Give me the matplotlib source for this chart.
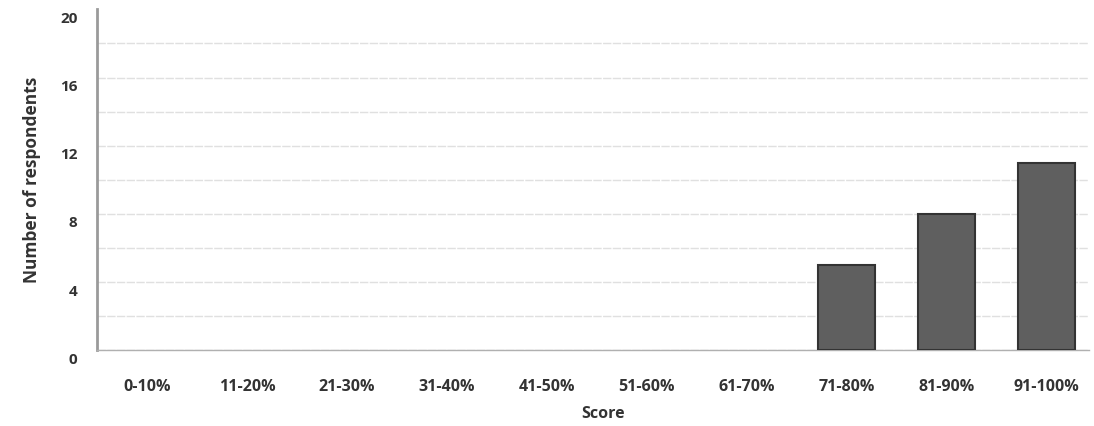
import numpy as np
import matplotlib.pyplot as plt
import matplotlib.transforms as mtransforms

categories = ["0-10%", "11-20%", "21-30%", "31-40%", "41-50%",
              "51-60%", "61-70%", "71-80%", "81-90%", "91-100%"]
respondents = [0, 0, 0, 0, 0, 0, 0, 5, 8, 11]
y_ticks = [0, 4, 8, 12, 16, 20]

plt.rcParams["font.family"] = ["Open Sans", "DejaVu Sans"]

fig = plt.figure(figsize=(10.94, 4.26), dpi=100)
ax = fig.add_axes([0.0887, 0.178, 0.907, 0.80])

x = np.arange(len(categories))
edges = ["#333333" if v > 0 else "none" for v in respondents]
ax.bar(x, respondents, width=0.57, color="#5f5f5f",
       edgecolor=edges, linewidth=1.5, zorder=3)

ax.set_xlim(-0.5, 9.43)
ax.set_ylim(0, 20)
ax.set_yticks(np.arange(2, 20, 2), minor=True)
ax.grid(axis="y", which="both", color="#e0e0e0", linewidth=1.0,
        linestyle=(0, (6, 1)), zorder=0)

ax.set_xticks(x)
ax.set_xticklabels(categories, fontsize=11.5, fontweight="bold", color="#333333")
ax.set_yticks(y_ticks)
ax.set_yticklabels([str(v) for v in y_ticks], fontsize=11,
                   fontweight="bold", color="#333333")
ax.tick_params(axis="x", length=0, pad=21)
ax.tick_params(axis="y", length=0, pad=14)
ax.tick_params(axis="y", which="minor", length=0)
ax.yaxis.get_gridlines()[-1].set_visible(False)

# labels sit a little below their grid values in the original
offset = mtransforms.ScaledTranslation(0, -8 / 100, fig.dpi_scale_trans)
for lab in ax.get_yticklabels():
    lab.set_transform(lab.get_transform() + offset)

for side in ["top", "right"]:
    ax.spines[side].set_visible(False)
ax.spines["left"].set_color("#9a9a9a")
ax.spines["left"].set_linewidth(2)
ax.spines["bottom"].set_color("#b0b0b0")
ax.spines["bottom"].set_linewidth(1)

ax.set_xlabel("Score", fontsize=11.5, fontweight="bold", color="#333333")
ax.xaxis.set_label_coords(0.51, -0.165)
ax.set_ylabel("Number of respondents", fontsize=12.5, fontweight="bold",
              color="#333333", labelpad=14)

fig.savefig("out.png", dpi=100, facecolor="white")
